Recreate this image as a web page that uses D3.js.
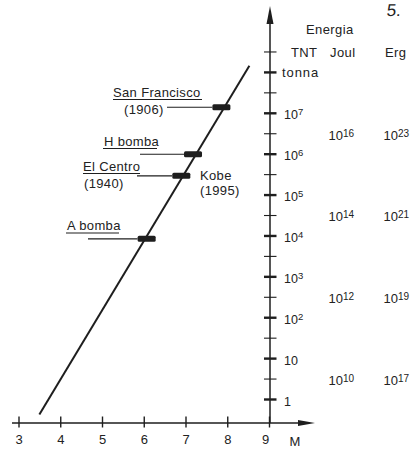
<!DOCTYPE html>
<html><head><meta charset="utf-8">
<script src="https://cdn.jsdelivr.net/npm/d3@7"></script>
<style>
body{margin:0;background:#fff}
svg{display:block}
text{font-family:"Liberation Sans",Arial,sans-serif;fill:#222}
</style>
</head><body>
<svg id="c" width="414" height="451"></svg>
<script>
// ---- data ----
const magnitudeTicks = [3, 4, 5, 6, 7, 8, 9];
const tntTickExponents = [0, 0.5, 1, 1.5, 2, 2.5, 3, 3.5, 4, 4.5, 5, 5.5, 6, 6.5, 7, 7.5, 8, 8.5];
const tntLabelExponents = [0, 1, 2, 3, 4, 5, 6, 7];
const joulExponents = [10, 12, 14, 16];
const ergExponents = [17, 19, 21, 23];
const joulPerTonTNT = 4.184e9;
const ergPerJoul = 1e7;
const lineM = [3.5, 8.53];
const lineTNT = [0.43, 1.45e8];
const eventNames = ["San Francisco", "H bomba", "El Centro", "A bomba"];
const eventYears = ["(1906)", "", "(1940)", ""];
const eventM = [7.86, 7.18, 6.90, 6.07];
const eventTNT = [1.41e7, 1.0e6, 2.95e5, 8.5e3];
const sideNote = ["Kobe", "(1995)"];   // shares the El Centro marker

// ---- layout ----
const svg = d3.select("#c");
const x = d3.scaleLinear().domain([3, 9]).range([18.5, 269]);
const y = d3.scaleLog().domain([1, 1e7]).range([399.5, 113.3]);
const xAxisY = 423;
const yAxisX = x(9) + 1;
const ink = "#1e1e1e";

// x axis
const gx = svg.append("g").attr("transform", `translate(0,${xAxisY})`)
  .call(d3.axisBottom(x).tickValues(magnitudeTicks).tickSize(5).tickFormat(d3.format("d")));
gx.select(".domain").remove();
gx.selectAll(".tick line").attr("y1", -6.5).attr("y2", 4.5).attr("stroke", ink).attr("stroke-width", 1.4);
gx.selectAll(".tick text").attr("y", 12).attr("font-size", 13).attr("font-family", "Liberation Sans, Arial, sans-serif").attr("fill", "#222");
gx.selectAll(".tick").filter(d => d === 9).select("text").attr("dx", -4);
svg.append("line").attr("x1", 12).attr("x2", 302).attr("y1", xAxisY).attr("y2", xAxisY)
  .attr("stroke", ink).attr("stroke-width", 1.4);
svg.append("path").attr("d", `M298,${xAxisY-3}L315,${xAxisY}L298,${xAxisY+3}Z`).attr("fill", ink);
svg.append("text").attr("x", 295).attr("y", 446).attr("text-anchor", "middle").attr("font-size", 13).text("M");

// y axis
svg.append("line").attr("x1", yAxisX).attr("x2", yAxisX).attr("y1", xAxisY).attr("y2", 18)
  .attr("stroke", ink).attr("stroke-width", 1.5);
svg.append("path").attr("d", `M${yAxisX-3.5},24L${yAxisX},6L${yAxisX+3.5},24Z`).attr("fill", ink);

const tv = tntTickExponents.map(e => Math.pow(10, e));
svg.append("g").selectAll("line").data(tv).join("line")
  .attr("x1", yAxisX - 6)
  .attr("x2", yAxisX + 6.5)
  .attr("y1", d => y(d)).attr("y2", d => y(d))
  .attr("stroke", ink)
  .attr("stroke-width", (d, i) => (tntTickExponents[i] % 1 === 0) ? 2.4 : 1.1);

function sup(sel, base, exp, bsize, esize, raise) {
  sel.append("tspan").attr("font-size", bsize).text(base);
  if (exp !== "") sel.append("tspan").attr("font-size", esize).attr("dy", -raise).text(exp);
}
const tntLabels = svg.append("g").selectAll("text").data(tntLabelExponents).join("text")
  .attr("x", yAxisX + 14).attr("y", d => y(Math.pow(10, d)) + 6);
tntLabels.each(function(d) {
  const t = d3.select(this);
  if (d === 0) sup(t, "1", "", 12.5, 9.5, 4);
  else if (d === 1) sup(t, "10", "", 12.5, 9.5, 4);
  else sup(t, "10", String(d), 12.5, 9.5, 4);
});

// unit headers
svg.append("text").attr("x", 306).attr("y", 34).attr("font-size", 13).attr("letter-spacing", 0.4).text("Energia");
svg.append("text").attr("x", 291).attr("y", y(Math.pow(10, 8.5)) + 5).attr("font-size", 13).attr("letter-spacing", 0.3).text("TNT");
svg.append("text").attr("x", 282).attr("y", y(1e8) + 5).attr("font-size", 13).attr("letter-spacing", 0.9).text("tonna");
svg.append("text").attr("x", 330).attr("y", y(Math.pow(10, 8.5)) + 5).attr("font-size", 13).attr("letter-spacing", 0.4).text("Joul");
svg.append("text").attr("x", 385).attr("y", y(Math.pow(10, 8.5)) + 5).attr("font-size", 13).attr("letter-spacing", 0.4).text("Erg");
svg.append("text").attr("x", 386).attr("y", 16.5).attr("font-size", 17)
  .attr("font-family", "Liberation Serif, serif").attr("fill", "#333")
  .attr("transform", "skewX(-6) translate(2,0)").text("5.");

svg.append("g").selectAll("text").data(joulExponents).join("text")
  .attr("x", 328.5).attr("y", d => y(Math.pow(10, d) / joulPerTonTNT) + 1)
  .each(function(d) { sup(d3.select(this), "10", String(d), 13, 10, 3); });
svg.append("g").selectAll("text").data(ergExponents).join("text")
  .attr("x", 383.5).attr("y", d => y(Math.pow(10, d) / ergPerJoul / joulPerTonTNT) + 1)
  .each(function(d) { sup(d3.select(this), "10", String(d), 13, 10, 3); });

// energy–magnitude line
const lineGen = d3.line().x(d => x(d[0])).y(d => y(d[1]));
svg.append("path").attr("d", lineGen(lineM.map((m, i) => [m, lineTNT[i]])))
  .attr("fill", "none").attr("stroke", ink).attr("stroke-width", 2);

// event labels (pixel layout only)
const labelLayout = {
  "San Francisco": {tx: 113, ty: 97, ul: [113, 202, 99.5], yearX: 124, yearY: 114, leadX: 167},
  "H bomba":       {tx: 104, ty: 145.5, ul: [103, 157, 148.5], leadX: 140},
  "El Centro":     {tx: 83, ty: 171, ul: [83, 140, 173.5], yearX: 84, yearY: 187.5, leadX: 137},
  "A bomba":       {tx: 67, ty: 230, ul: [66, 119, 233], leadX: 88}
};
eventNames.forEach((name, i) => {
  const L = labelLayout[name];
  const mx = x(eventM[i]), my = y(eventTNT[i]);
  svg.append("line").attr("x1", L.leadX).attr("x2", mx - 9).attr("y1", my).attr("y2", my)
    .attr("stroke", ink).attr("stroke-width", 1.1);
  svg.append("rect").attr("x", mx - 9).attr("y", my - 3).attr("width", 18).attr("height", 6)
    .attr("rx", 1.5).attr("fill", ink);
  svg.append("text").attr("x", L.tx).attr("y", L.ty).attr("font-size", 13).attr("letter-spacing", 0.35).text(name);
  svg.append("line").attr("x1", L.ul[0]).attr("x2", L.ul[1]).attr("y1", L.ul[2]).attr("y2", L.ul[2])
    .attr("stroke", ink).attr("stroke-width", 1.1);
  if (eventYears[i]) svg.append("text").attr("x", L.yearX).attr("y", L.yearY).attr("font-size", 13).attr("letter-spacing", 0.35).text(eventYears[i]);
});
svg.append("text").attr("x", 200).attr("y", 180).attr("font-size", 13).attr("letter-spacing", 0.35).text(sideNote[0]);
svg.append("text").attr("x", 200).attr("y", 194.5).attr("font-size", 13).attr("letter-spacing", 0.35).text(sideNote[1]);
</script>
</body></html>
